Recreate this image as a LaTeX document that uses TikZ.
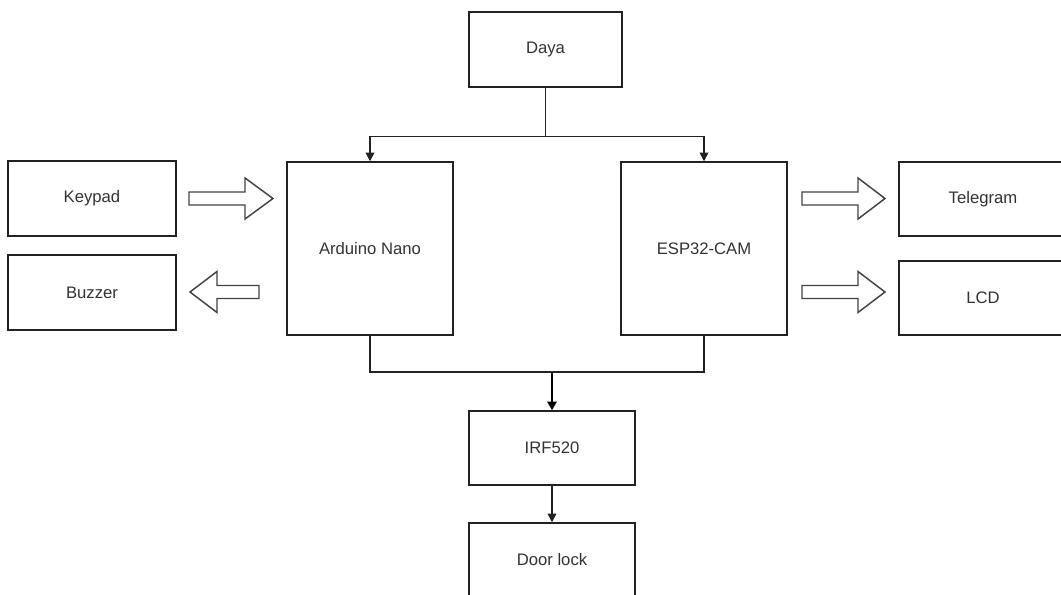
\documentclass[tikz,border=0pt]{standalone}
\usepackage{fontspec}
\setmainfont{Liberation Sans}
\usetikzlibrary{arrows.meta}

\definecolor{lineGrey}{RGB}{34,34,34}
\definecolor{textGrey}{RGB}{51,51,51}

\tikzset{every picture/.style={line width=0.75pt}}
\tikzset{
  blok/.style={draw=lineGrey, line width=1.1pt, fill=white, inner sep=0pt,
    text=textGrey, font=\fontsize{12.5}{14}\selectfont},
  hubung/.style={draw=lineGrey, line width=1.1pt},
  panah/.style={hubung, -{Triangle[width=6.5pt,length=6.5pt]}},
  panahTebal/.style={draw=black, line width=1.7pt, -{Triangle[width=7pt,length=6.5pt]}},
  panahBlok/.style={draw=lineGrey!85, line width=1.1pt, fill=white, line join=miter}
}

\begin{document}
\begin{tikzpicture}[x=0.75pt,y=0.75pt,yscale=-1,xscale=1]
%set diagram left start at 0, and has height of 595
\path[use as bounding box] (0,0) rectangle (1061,595);
\clip (0,0) rectangle (1061,595);

%Shape: Rectangle [id:daya]
\node[blok, minimum width=114.75pt, minimum height=56.25pt] (daya) at (545.5,49.5) {Daya};
%Shape: Rectangle [id:arduino]
\node[blok, minimum width=124.5pt, minimum height=129.75pt] (arduino) at (370,248.5) {Arduino Nano};
%Shape: Rectangle [id:esp]
\node[blok, minimum width=124.5pt, minimum height=129.75pt] (esp) at (704,248.5) {ESP32-CAM};
%Shape: Rectangle [id:keypad]
\node[blok, minimum width=126pt, minimum height=56.25pt] (keypad) at (92,198.5) {Keypad};
%Shape: Rectangle [id:buzzer]
\node[blok, minimum width=126pt, minimum height=56.25pt] (buzzer) at (92,292.5) {Buzzer};
%Shape: Rectangle [id:telegram]
\node[blok, minimum width=126pt, minimum height=55.5pt] (telegram) at (983,199) {Telegram};
%Shape: Rectangle [id:lcd]
\node[blok, minimum width=126pt, minimum height=55.5pt] (lcd) at (983,298) {LCD};
%Shape: Rectangle [id:irf]
\node[blok, minimum width=124.5pt, minimum height=55.5pt] (irf) at (552,448) {IRF520};
%Shape: Rectangle [id:doorlock]
\node[blok, minimum width=124.5pt, minimum height=55.5pt] (doorlock) at (552,560) {Door lock};

%Connector: daya ke board
\draw[panah] (daya.south) -- ++(0,49) -| (arduino.north);
\draw[panah] (daya.south) -- ++(0,49) -| (esp.north);

%Connector: board ke IRF520
\coordinate (gabung) at (552,372);
\draw[hubung] (arduino.south) |- (gabung) -| (esp.south);
\draw[panahTebal] (gabung) -- (irf.north);
\draw[panah] (irf.south) -- (doorlock.north);

%Shape: Block Arrow (keypad)
\draw[panahBlok] (189,192) -- (245,192) -- (245,178) -- (273,198.5) -- (245,219) -- (245,205) -- (189,205) -- cycle;
%Shape: Block Arrow (buzzer)
\draw[panahBlok] (259,285.5) -- (217,285.5) -- (217,271.5) -- (190,292) -- (217,312.5) -- (217,298.5) -- (259,298.5) -- cycle;
%Shape: Block Arrow (telegram)
\draw[panahBlok] (802,192) -- (858,192) -- (858,178) -- (885,198.5) -- (858,219) -- (858,205) -- (802,205) -- cycle;
%Shape: Block Arrow (lcd)
\draw[panahBlok] (802,285.5) -- (858,285.5) -- (858,271.5) -- (885,292) -- (858,312.5) -- (858,298.5) -- (802,298.5) -- cycle;

\end{tikzpicture}
\end{document}
